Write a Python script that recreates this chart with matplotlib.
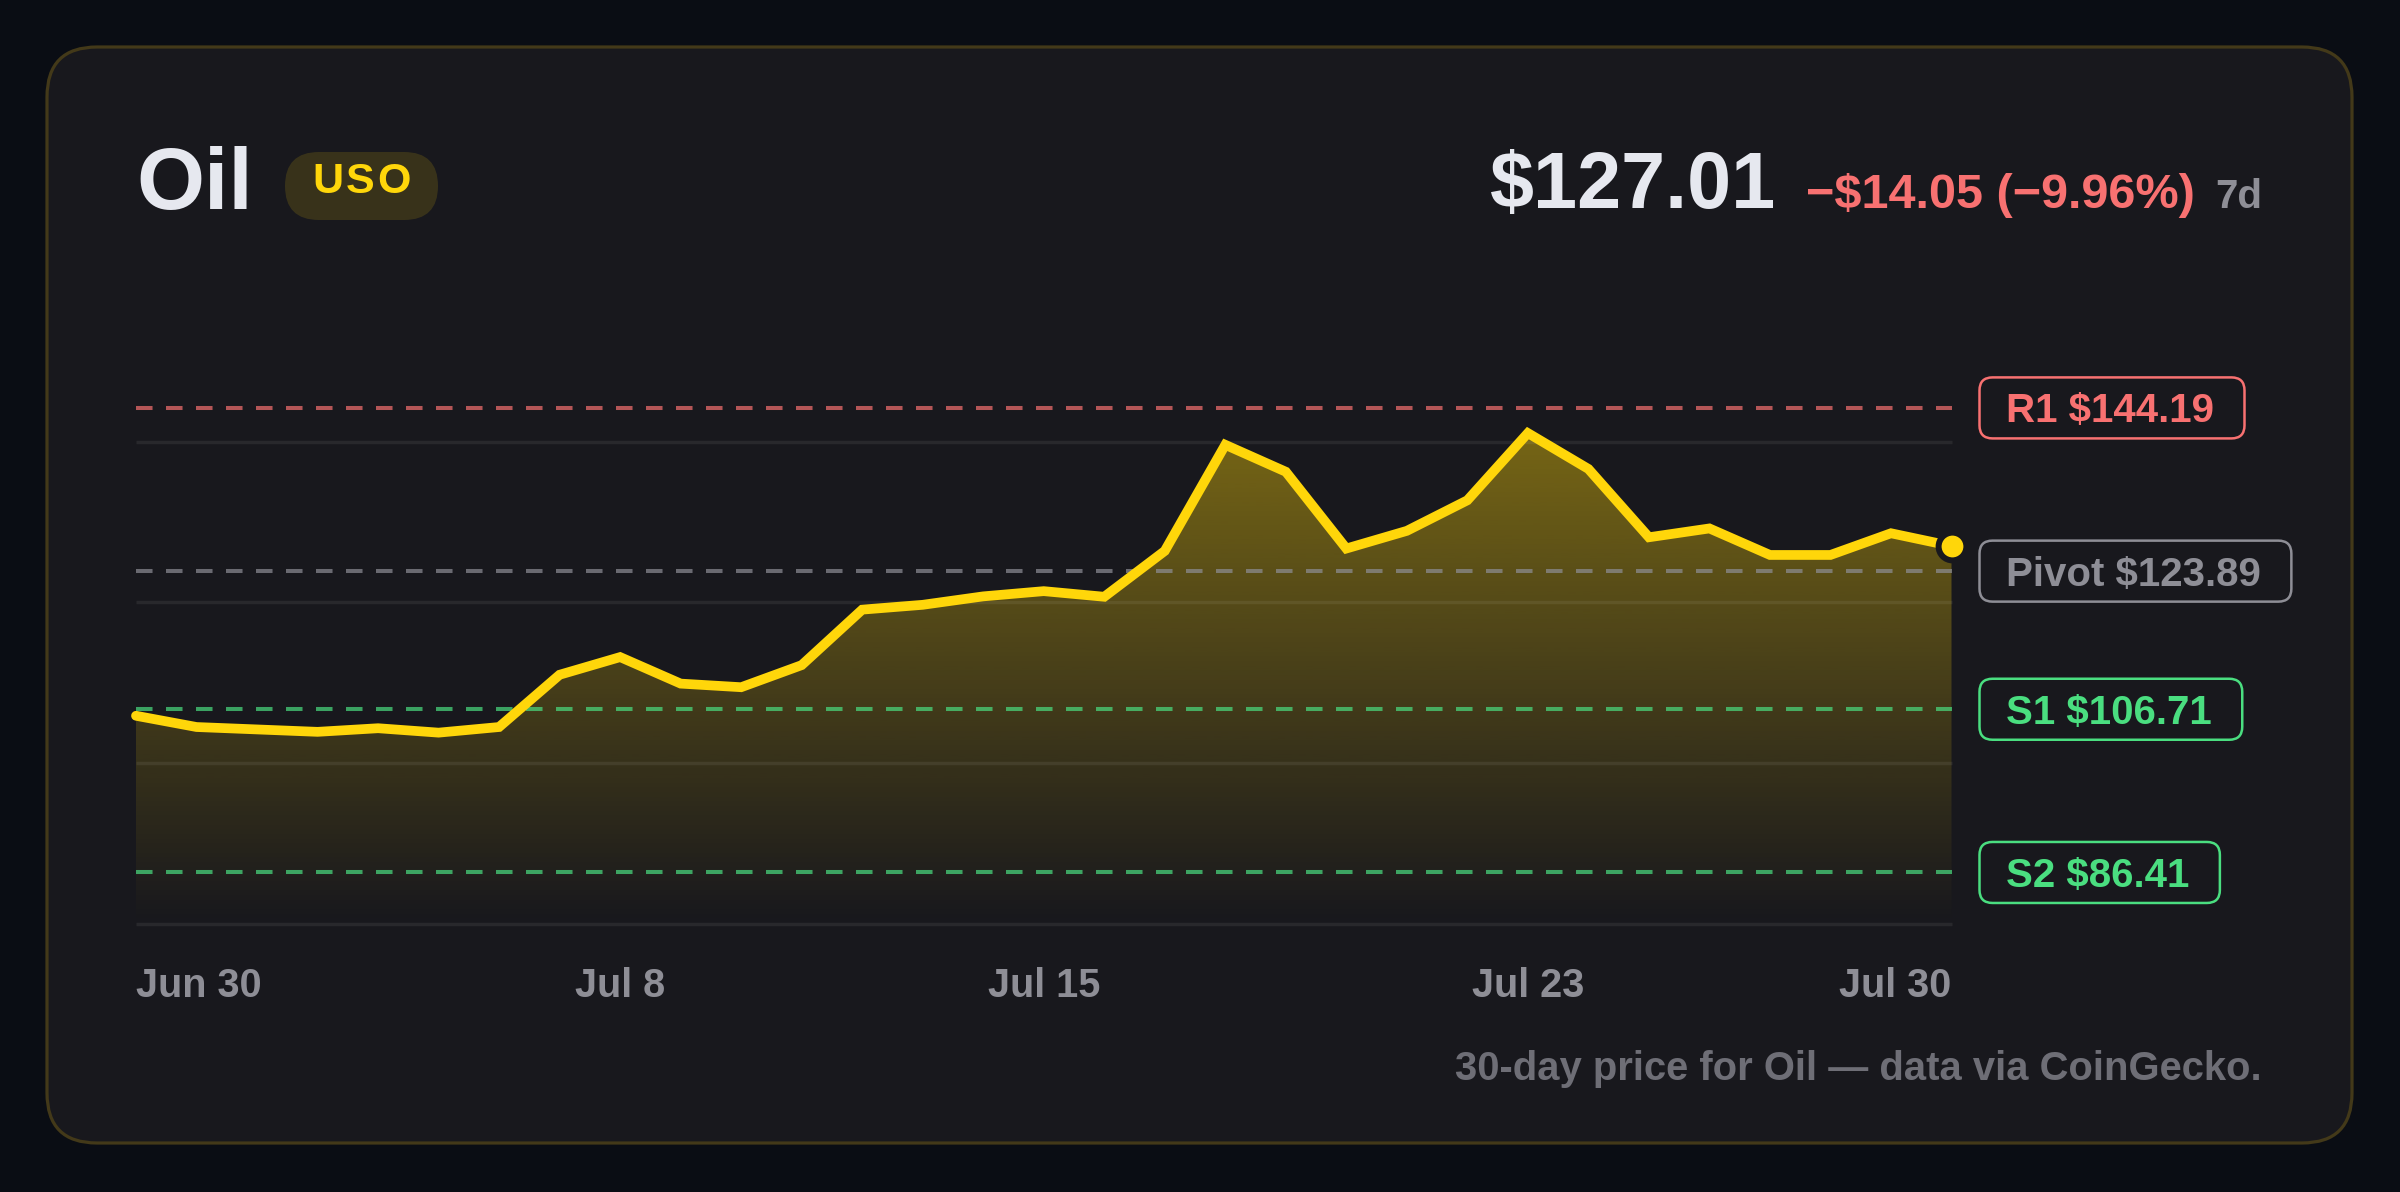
import numpy as np
import matplotlib
matplotlib.use("Agg")
import matplotlib.pyplot as plt
from matplotlib.patches import FancyBboxPatch, Polygon
from matplotlib.colors import to_rgb

plt.rcParams["font.family"] = ["Liberation Sans", "DejaVu Sans"]
plt.rcParams["font.weight"] = "bold"
plt.rcParams["lines.scale_dashes"] = False

# --- data ---
days = list(range(31))  # Jun 30 .. Jul 30
prices = [105.9, 104.5, 104.2, 103.9, 104.35, 103.8, 104.5, 111.0, 113.2, 109.9,
          109.45, 112.2, 119.1, 119.7, 120.75, 121.4, 120.7, 126.4, 139.6, 136.25,
          126.7, 128.9, 132.7, 141.06, 136.6, 128.1, 129.2, 125.9, 125.9, 128.6,
          127.01]
tick_days = [0, 8, 15, 23, 30]
tick_labels = ["Jun 30", "Jul 8", "Jul 15", "Jul 23", "Jul 30"]
grid_values = [80, 100, 120, 140]
level_names = ["R1", "Pivot", "S1", "S2"]
level_values = [144.19, 123.89, 106.71, 86.41]
level_colors = ["#f87171", "#8e8e96", "#4ade80", "#4ade80"]

name = "Oil"
ticker = "USO"
last_price = 127.01
change = -14.05
change_pct = -9.96
period = "7d"
footer = "30-day price for Oil \u2014 data via CoinGecko."

# --- colours ---
BG = "#0a0d14"
CARD = "#18181d"
CARD_EDGE = "#433919"
GOLD = "#ffd60a"
WHITE = "#e6e8ef"
GREY = "#8e8e96"
RED = "#f87171"

W, H = 2400, 1192
fig = plt.figure(figsize=(W / 100, H / 100), dpi=100, facecolor=BG)
renderer = fig.canvas.get_renderer()

# overlay in pixel units (y down)
ov = fig.add_axes([0, 0, 1, 1], zorder=0)
ov.set_xlim(0, W)
ov.set_ylim(H, 0)
ov.axis("off")

ov.add_patch(FancyBboxPatch((47, 47), 2305, 1096,
                            boxstyle="round,pad=0,rounding_size=50",
                            fc=CARD, ec=CARD_EDGE, lw=2.3))

# header
ov.text(136, 209, name, fontsize=63, color=WHITE, va="baseline", ha="left")
ov.add_patch(FancyBboxPatch((285, 152), 153, 68,
                            boxstyle="round,pad=0,rounding_size=34",
                            fc=GOLD, alpha=0.14, ec="none"))

# ticker with a little letter spacing
spacing = 3
chars = []
for ch in ticker:
    t = ov.text(0, 193, ch, fontsize=31, color=GOLD, va="baseline", ha="left")
    chars.append((t, t.get_window_extent(renderer).width))
total = sum(w for _, w in chars) + spacing * (len(chars) - 1)
x = 361.5 - total / 2
for t, w in chars:
    t.set_x(x)
    x += w + spacing

ov.text(2262, 208, period, fontsize=29, color=GREY, va="baseline", ha="right")
sign = "\u2212" if change < 0 else "+"
ov.text(2195, 208, f"{sign}${abs(change):.2f} ({sign}{abs(change_pct):.2f}%)",
        fontsize=35, color=RED, va="baseline", ha="right")
ov.text(1776, 208, f"${last_price:.2f}", fontsize=57, color=WHITE,
        va="baseline", ha="right")

ov.text(2262, 1080, footer, fontsize=28.8, color="#6e6e76", va="baseline",
        ha="right")

# --- chart ---
ax = fig.add_axes([136 / W, 268 / H, 1815.5 / W, 562.8 / H], zorder=1)
ax.set_facecolor("none")
ax.set_xlim(0, 30)
ax.set_ylim(80, 150)
for s in ax.spines.values():
    s.set_visible(False)
ax.set_yticks([])

# gradient fill under the line
verts = [(days[0], 80)] + list(zip(days, prices)) + [(days[-1], 80)]
clip = Polygon(verts, closed=True, transform=ax.transData, fc="none", ec="none")
ax.add_patch(clip)
rgba = np.zeros((256, 1, 4))
rgba[..., :3] = to_rgb(GOLD)
rgba[..., 3] = np.linspace(0, 0.47, 256)[:, None]
im = ax.imshow(rgba, extent=[0, 30, 80, 150], origin="lower", aspect="auto",
               zorder=1, interpolation="bilinear")
im.set_clip_path(clip)

ax.hlines(grid_values, 0, 30, colors=(1, 1, 1, 0.07), lw=2.5, zorder=2,
          clip_on=False)

for val, col in zip(level_values, level_colors):
    ax.axhline(val, color=col, alpha=0.7, lw=2.9, dashes=(11.9, 9.7),
               dash_capstyle="butt", zorder=3)

ax.plot(days, prices, color=GOLD, lw=7, solid_joinstyle="miter",
        solid_capstyle="round", zorder=4, clip_on=False)
ax.plot(days[-1], prices[-1], "o", ms=20, mfc=GOLD, mec=CARD, mew=4.3,
        zorder=5, clip_on=False)

ax.set_xticks(tick_days, tick_labels)
ax.tick_params(axis="x", length=0, pad=52.6, labelsize=28.5, labelcolor=GREY)
labs = ax.get_xticklabels()
for i, lab in enumerate(labs):
    lab.set_verticalalignment("baseline")
    if i == 0:
        lab.set_horizontalalignment("left")
    elif i == len(labs) - 1:
        lab.set_horizontalalignment("right")

# level tags to the right of the plot
right_px = ax.get_position().x1 * W
fs = 29
cap = fs / 0.72 * 0.716
for nm, val, col in zip(level_names, level_values, level_colors):
    y = H - ax.transData.transform((0, val))[1]
    t = ov.text(right_px + 54, y + cap / 2, f"{nm} ${val:.2f}", fontsize=fs,
                color=col, va="baseline", ha="left", zorder=3)
    bb = t.get_window_extent(renderer)
    x0 = right_px + 28
    ov.add_patch(FancyBboxPatch((x0, y - 30.5), bb.x1 + 31 - x0, 61,
                                boxstyle="round,pad=0,rounding_size=13",
                                fc=CARD, ec=col, lw=1.8, zorder=2))

fig.savefig("out.png", dpi=100, facecolor=BG)
